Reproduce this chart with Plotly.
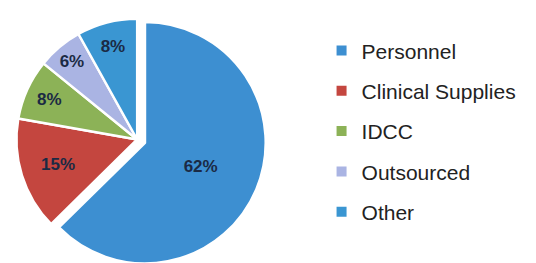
import plotly.graph_objects as go

categories = ["Personnel", "Clinical Supplies", "IDCC", "Outsourced", "Other"]
values = [62, 15, 8, 6, 8]
colors = ["#3d8fd1", "#c4463f", "#8cb257", "#aab4e3", "#3a96d2"]
pulls = [0.07, 0, 0, 0, 0]

fig = go.Figure()
fig.add_trace(go.Pie(
    labels=categories, values=values, sort=False, direction="clockwise", rotation=0,
    pull=pulls, marker=dict(colors=colors, line=dict(color="white", width=2.5)),
    texttemplate="<b>%{value}%</b>", textposition="inside", insidetextorientation="horizontal",
    textfont=dict(family="Liberation Sans", size=17, color="#1b2a44"),
    domain=dict(x=[0, 0.482], y=[0, 1]), showlegend=False, hoverinfo="skip",
))
for c, col in zip(categories, colors):
    fig.add_trace(go.Scatter(x=[None], y=[None], mode="markers", name=c, legendgroup=c,
                             marker=dict(symbol="square", size=10, color=col)))

fig.update_layout(
    width=536, height=263, margin=dict(l=0, r=0, t=0, b=0),
    paper_bgcolor="white", plot_bgcolor="white",
    xaxis=dict(visible=False), yaxis=dict(visible=False),
    legend=dict(x=0.585, y=0.915, xanchor="left", yanchor="top", tracegroupgap=10,
                font=dict(family="Liberation Sans", size=21, color="#222222"),
                bgcolor="rgba(0,0,0,0)"),
)
fig.write_html("out.html")
